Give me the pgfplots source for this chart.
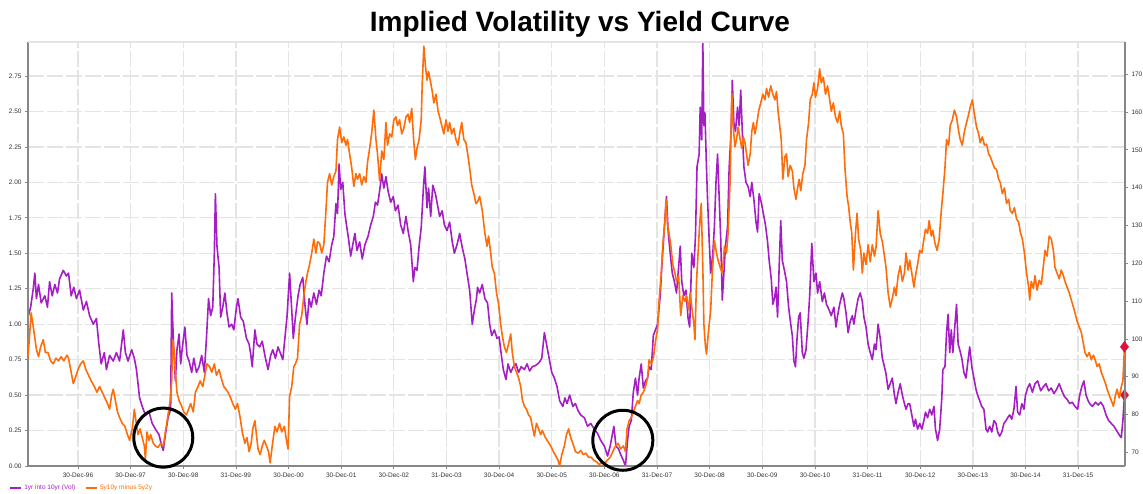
\documentclass[border=0pt]{standalone}
\usepackage{pgfplots}
\pgfplotsset{compat=1.18}
\usepackage{fontspec}
\setmainfont{Liberation Sans}
\definecolor{volc}{RGB}{165,30,195}
\definecolor{curvc}{RGB}{255,108,10}
\definecolor{gridc}{RGB}{228,228,228}
\definecolor{axisc}{RGB}{135,135,135}
\definecolor{mkc}{RGB}{220,20,60}
\begin{document}
\begin{tikzpicture}
\useasboundingbox (0,0) rectangle (1143pt,494pt);
\node[anchor=base, font=\fontsize{28}{30}\selectfont\bfseries] at (580pt,462pt) {Implied Volatility vs Yield Curve};
\begin{axis}[
  at={(28pt,28pt)}, anchor=south west,
  scale only axis, width=1097pt, height=424pt,
  xmin=1996.05, xmax=2016.89, ymin=0, ymax=2.99,
  clip=false,
  xtick={1997,1998,1999,2000,2001,2002,2003,2004,2005,2006,2007,2008,2009,2010,2011,2012,2013,2014,2015,2016},
  xticklabels={30-Dec-96,30-Dec-97,30-Dec-98,31-Dec-99,30-Dec-00,30-Dec-01,30-Dec-02,31-Dec-03,30-Dec-04,30-Dec-05,30-Dec-06,31-Dec-07,30-Dec-08,30-Dec-09,30-Dec-10,31-Dec-11,30-Dec-12,30-Dec-13,30-Dec-14,31-Dec-15},
  ytick={0,0.25,0.5,0.75,1,1.25,1.5,1.75,2,2.25,2.5,2.75},
  yticklabel style={/pgf/number format/.cd, fixed, fixed zerofill, precision=2},
  /pgf/number format/assume math mode=true,
  ticklabel style={font=\fontsize{6.5}{7}\selectfont, color=black!80},
  xtick pos=bottom, ytick pos=left, tick align=outside,
  major tick length=3pt, tick style={axisc, line width=0.8pt},
  axis line style={draw=none},
  grid=major, major grid style={gridc, line width=1.3pt, dash pattern=on 16pt off 3pt},
]
\addplot[volc, line width=1.6pt, line join=round] coordinates {
(1996.05,1.05)(1996.10,1.12)(1996.15,1.25)(1996.18,1.36)(1996.21,1.18)(1996.25,1.28)(1996.30,1.15)(1996.37,1.20)(1996.42,1.12)(1996.46,1.30)
(1996.51,1.20)(1996.56,1.28)(1996.61,1.22)(1996.65,1.32)(1996.72,1.38)(1996.78,1.34)(1996.82,1.36)(1996.87,1.20)(1996.92,1.26)(1996.97,1.18)
(1997.03,1.24)(1997.10,1.10)(1997.16,1.16)(1997.22,1.06)(1997.29,1.00)(1997.35,1.04)(1997.39,0.88)(1997.44,0.72)(1997.50,0.80)(1997.54,0.68)
(1997.60,0.78)(1997.67,0.74)(1997.73,0.80)(1997.79,0.74)(1997.86,0.96)(1997.90,0.80)(1997.95,0.74)(1998.02,0.82)(1998.07,0.76)(1998.11,0.68)
(1998.17,0.48)(1998.22,0.42)(1998.28,0.36)(1998.35,0.38)(1998.41,0.30)(1998.47,0.26)(1998.54,0.22)(1998.59,0.14)(1998.62,0.11)(1998.66,0.22)
(1998.71,0.34)(1998.76,0.40)(1998.78,1.22)(1998.81,0.90)(1998.85,0.60)(1998.88,0.82)(1998.92,0.93)(1998.95,0.72)(1998.99,0.86)(1999.03,0.98)
(1999.07,0.78)(1999.11,0.74)(1999.16,0.66)(1999.20,0.76)(1999.25,0.66)(1999.30,0.70)(1999.35,0.78)(1999.40,0.66)(1999.44,0.90)(1999.48,1.18)
(1999.52,1.06)(1999.56,1.12)(1999.59,1.50)(1999.61,1.92)(1999.64,1.55)(1999.68,1.40)(1999.71,1.05)(1999.75,1.12)(1999.79,1.22)(1999.83,1.08)
(1999.87,0.98)(1999.92,1.00)(1999.96,0.96)(2000.01,1.12)(2000.04,1.18)(2000.09,1.05)(2000.14,1.02)(2000.20,0.90)(2000.25,0.86)
(2000.28,0.79)(2000.31,0.70)(2000.36,0.96)(2000.40,0.86)(2000.45,0.84)(2000.50,0.88)(2000.55,0.78)(2000.61,0.68)(2000.66,0.78)(2000.70,0.82)
(2000.75,0.76)(2000.80,0.84)(2000.84,0.80)(2000.89,0.75)(2000.93,0.90)(2000.97,1.05)(2001.02,1.36)(2001.06,1.10)(2001.09,0.90)(2001.13,1.05)
(2001.18,1.20)(2001.22,1.28)(2001.27,1.33)(2001.31,1.14)(2001.35,1.00)(2001.39,1.18)(2001.43,1.12)(2001.48,1.22)(2001.53,1.14)(2001.58,1.24)
(2001.62,1.20)(2001.67,1.36)(2001.72,1.48)(2001.77,1.44)(2001.82,1.56)(2001.86,1.62)(2001.90,1.85)(2001.93,1.78)(2001.96,2.13)(2001.99,1.95)
(2002.03,2.00)(2002.07,1.78)(2002.10,1.70)(2002.14,1.60)(2002.18,1.48)(2002.23,1.58)(2002.26,1.64)(2002.30,1.52)(2002.35,1.58)(2002.40,1.46)
(2002.45,1.56)(2002.51,1.62)(2002.56,1.70)(2002.61,1.76)(2002.65,1.86)(2002.69,1.84)(2002.73,1.94)(2002.77,2.06)(2002.81,1.96)(2002.85,2.04)
(2002.89,1.94)(2002.94,1.86)(2002.99,1.90)(2003.03,1.80)(2003.08,1.84)(2003.13,1.70)(2003.18,1.64)(2003.23,1.76)(2003.27,1.66)(2003.32,1.56)
(2003.37,1.30)(2003.40,1.40)(2003.44,1.38)(2003.48,1.55)(2003.52,1.68)(2003.56,1.95)(2003.59,2.11)(2003.63,1.82)(2003.66,1.96)(2003.70,1.76)
(2003.74,1.98)(2003.79,1.92)(2003.83,1.84)(2003.87,1.76)(2003.92,1.80)(2003.96,1.70)(2004.01,1.66)(2004.06,1.72)(2004.11,1.58)(2004.15,1.50)
(2004.20,1.56)(2004.25,1.64)(2004.30,1.54)(2004.35,1.46)(2004.39,1.36)(2004.44,1.24)(2004.49,1.00)(2004.53,1.10)(2004.57,1.18)
(2004.59,1.26)(2004.63,1.22)(2004.68,1.28)(2004.73,1.18)(2004.78,1.15)(2004.82,1.00)(2004.86,0.92)(2004.91,0.96)(2004.96,0.90)(2005.00,0.91)
(2005.05,0.76)(2005.08,0.68)(2005.13,0.61)(2005.17,0.72)(2005.22,0.66)(2005.27,0.70)(2005.32,0.72)(2005.37,0.66)(2005.42,0.70)(2005.48,0.68)
(2005.53,0.72)(2005.58,0.67)(2005.63,0.70)(2005.70,0.71)(2005.76,0.73)(2005.81,0.76)(2005.86,0.94)(2005.90,0.86)(2005.95,0.76)(2006.00,0.66)
(2006.05,0.62)(2006.10,0.56)(2006.15,0.46)(2006.21,0.42)(2006.25,0.48)(2006.29,0.44)(2006.34,0.50)(2006.40,0.42)(2006.45,0.44)(2006.50,0.39)
(2006.55,0.36)(2006.62,0.34)(2006.68,0.28)(2006.74,0.30)(2006.81,0.26)(2006.87,0.23)(2006.93,0.18)(2007.00,0.14)(2007.06,0.07)(2007.11,0.14)
(2007.14,0.20)(2007.18,0.28)(2007.22,0.14)(2007.27,0.12)(2007.31,0.08)(2007.36,0.04)(2007.40,0.00)(2007.44,0.18)(2007.47,0.28)(2007.51,0.32)
(2007.55,0.52)(2007.59,0.62)(2007.63,0.50)(2007.66,0.62)(2007.70,0.72)(2007.74,0.55)(2007.78,0.60)(2007.82,0.62)(2007.85,0.70)(2007.89,0.68)
(2007.93,0.92)(2007.97,0.96)(2008.01,1.00)(2008.06,1.20)(2008.09,1.40)(2008.14,1.69)(2008.18,1.90)(2008.21,1.66)(2008.25,1.50)(2008.29,1.36)
(2008.33,1.30)(2008.37,1.22)(2008.41,1.40)(2008.44,1.55)(2008.47,1.30)(2008.51,1.20)(2008.55,1.24)(2008.59,1.04)(2008.62,0.98)
(2008.63,1.10)(2008.66,1.50)(2008.70,1.40)(2008.73,1.62)(2008.76,2.11)(2008.80,2.20)(2008.82,2.53)(2008.85,2.30)(2008.87,2.99)(2008.89,2.40)
(2008.91,2.49)(2008.94,2.10)(2008.96,1.88)(2008.99,1.60)(2009.02,1.36)(2009.06,1.50)(2009.09,1.69)(2009.12,2.00)(2009.15,2.20)(2009.18,1.90)
(2009.21,1.60)(2009.24,1.17)(2009.27,1.36)(2009.30,1.55)(2009.34,1.69)(2009.37,2.10)(2009.41,2.39)(2009.43,2.72)(2009.46,2.42)(2009.49,2.36)
(2009.53,2.53)(2009.56,2.40)(2009.59,2.65)(2009.62,2.36)(2009.65,2.11)(2009.69,2.00)(2009.73,1.97)(2009.77,1.90)(2009.80,2.00)(2009.84,1.88)
(2009.88,1.72)(2009.91,1.65)(2009.94,1.92)(2009.98,1.86)(2010.02,1.78)(2010.06,1.70)(2010.10,1.58)(2010.13,1.45)(2010.17,1.32)(2010.20,1.14)
(2010.23,1.18)(2010.26,1.26)(2010.29,1.05)(2010.32,1.40)(2010.35,1.73)(2010.38,1.45)(2010.42,1.38)(2010.46,1.30)(2010.50,1.12)(2010.54,1.00)
(2010.57,0.92)(2010.60,0.74)(2010.63,0.70)(2010.66,0.90)(2010.69,1.05)(2010.72,1.08)(2010.76,0.80)(2010.79,0.76)(2010.83,0.82)(2010.87,1.02)
(2010.90,1.20)(2010.94,1.57)(2010.98,1.30)(2011.02,1.36)(2011.05,1.22)(2011.09,1.30)(2011.14,1.16)(2011.18,1.22)(2011.22,1.14)(2011.27,1.10)
(2011.31,1.06)(2011.36,1.12)(2011.40,0.98)(2011.43,1.06)(2011.47,1.14)(2011.52,1.22)(2011.55,1.18)(2011.59,1.08)(2011.63,0.94)(2011.67,1.02)
(2011.71,1.06)(2011.74,1.00)(2011.78,1.10)(2011.82,1.18)(2011.86,1.22)(2011.90,1.16)(2011.93,1.05)(2011.97,0.98)(2012.01,0.86)(2012.05,0.80)
(2012.09,0.75)(2012.13,0.86)(2012.16,0.82)(2012.20,1.00)(2012.24,0.90)(2012.28,0.76)(2012.32,0.70)(2012.35,0.65)(2012.39,0.54)(2012.43,0.58)
(2012.47,0.62)(2012.51,0.50)(2012.54,0.44)(2012.58,0.52)(2012.62,0.58)(2012.66,0.50)(2012.70,0.44)(2012.73,0.40)(2012.77,0.44)
(2012.80,0.44)(2012.84,0.36)(2012.88,0.28)(2012.91,0.33)(2012.95,0.26)(2012.99,0.30)(2013.03,0.26)(2013.07,0.32)(2013.10,0.38)(2013.14,0.34)
(2013.18,0.40)(2013.22,0.36)(2013.26,0.42)(2013.29,0.26)(2013.33,0.18)(2013.37,0.26)(2013.41,0.48)(2013.43,0.68)(2013.47,0.70)(2013.50,0.94)
(2013.53,1.07)(2013.56,0.80)(2013.59,0.96)(2013.62,0.80)(2013.66,1.00)(2013.69,1.14)(2013.72,0.86)(2013.75,0.82)(2013.79,0.76)(2013.83,0.66)
(2013.87,0.62)(2013.90,0.72)(2013.94,0.84)(2013.98,0.70)(2014.02,0.62)(2014.06,0.54)(2014.09,0.50)(2014.13,0.46)(2014.17,0.42)(2014.21,0.40)
(2014.25,0.26)(2014.28,0.24)(2014.32,0.28)(2014.36,0.24)(2014.40,0.32)(2014.44,0.30)(2014.47,0.24)(2014.51,0.21)(2014.55,0.24)(2014.59,0.30)
(2014.63,0.32)(2014.66,0.34)(2014.70,0.36)(2014.74,0.33)(2014.78,0.40)(2014.82,0.56)(2014.85,0.38)(2014.89,0.36)(2014.93,0.44)(2014.97,0.40)
(2015.00,0.50)(2015.04,0.55)(2015.08,0.58)(2015.13,0.52)(2015.18,0.58)(2015.23,0.60)(2015.29,0.53)(2015.34,0.56)(2015.39,0.58)(2015.44,0.53)
(2015.49,0.55)(2015.54,0.51)(2015.59,0.54)(2015.64,0.58)(2015.69,0.53)(2015.74,0.49)(2015.79,0.47)(2015.84,0.44)(2015.89,0.45)(2015.94,0.42)
(2015.99,0.40)(2016.03,0.50)(2016.07,0.56)(2016.11,0.60)(2016.15,0.50)(2016.19,0.46)(2016.22,0.44)(2016.27,0.42)(2016.33,0.45)(2016.38,0.43)
(2016.43,0.45)(2016.48,0.42)(2016.53,0.36)(2016.58,0.32)(2016.63,0.30)(2016.68,0.28)(2016.73,0.25)(2016.78,0.22)(2016.82,0.20)(2016.85,0.32)
(2016.88,0.50)
};
\addplot[only marks, mark=diamond*, mark size=5.5pt, color=mkc] coordinates {(2016.88,0.50)};
\draw[axisc, line width=1.5pt] (rel axis cs:0,1) -- (rel axis cs:0,0) -- (rel axis cs:1,0);
\draw[gridc, line width=1.3pt] (rel axis cs:0,1) -- (rel axis cs:1,1);
\end{axis}
\begin{axis}[
  at={(28pt,28pt)}, anchor=south west,
  scale only axis, width=1097pt, height=424pt,
  xmin=1996.05, xmax=2016.89, ymin=66.4, ymax=178.5,
  clip=false,
  axis x line=none, axis y line*=right,
  y axis line style={-, draw=axisc, line width=1.5pt},
  ytick={70,80,90,100,110,120,130,140,150,160,170},
  /pgf/number format/assume math mode=true,
  ticklabel style={font=\fontsize{6.5}{7}\selectfont, color=black!80},
  tick align=outside, major tick length=3pt, tick style={axisc, line width=0.8pt},
  legend style={at={(-0.017,-0.04)}, anchor=north west, draw=none, fill=none,
    font=\fontsize{6.5}{7}\selectfont, inner sep=0pt, /tikz/every even column/.append style={column sep=8pt}},
  legend columns=2, legend cell align=left,
  legend image code/.code={\draw[#1, line width=1.8pt] (0pt,0pt) -- (11pt,0pt);},
]
\addlegendimage{volc, line width=1.8pt}
\addlegendentry{\textcolor{volc}{1yr into 10yr (Vol)}}
\addplot[curvc, line width=1.6pt, line join=round] coordinates {
(1996.05,95.3)(1996.08,100.9)(1996.11,106.9)(1996.15,103.2)(1996.18,100.2)(1996.21,97.2)(1996.25,95.3)(1996.29,97.9)(1996.34,99.8)(1996.38,96.4)
(1996.43,96.4)(1996.48,94.2)(1996.53,93.4)(1996.58,94.9)(1996.63,94.2)(1996.68,95.3)(1996.73,94.2)(1996.79,95.7)(1996.82,94.9)(1996.87,91.2)
(1996.91,88.2)(1996.95,89.7)(1997.00,91.9)(1997.05,93.4)(1997.10,94.2)(1997.15,91.9)(1997.20,90.4)(1997.25,88.9)(1997.31,87.4)(1997.36,85.9)
(1997.41,87.4)(1997.46,85.9)(1997.51,84.4)(1997.56,82.9)(1997.60,81.4)(1997.64,85.2)(1997.67,86.7)(1997.71,83.7)(1997.75,80.7)(1997.79,79.2)
(1997.84,77.7)(1997.89,76.9)(1997.94,74.7)(1997.98,73.2)(1998.03,76.2)(1998.07,81.4)(1998.10,78.4)(1998.14,74.7)(1998.18,76.2)(1998.22,73.9)
(1998.26,71.7)(1998.28,68.3)(1998.31,75.4)(1998.35,73.2)(1998.38,74.7)(1998.43,72.4)(1998.47,71.7)(1998.52,71.3)(1998.57,72.4)(1998.62,71.7)
(1998.66,75.4)(1998.71,79.9)(1998.75,83.7)(1998.78,88.9)(1998.80,99.8)(1998.83,96.4)(1998.85,91.2)(1998.88,85.9)(1998.92,83.7)(1998.97,82.2)
(1999.01,80.7)(1999.06,79.9)(1999.10,81.4)(1999.14,82.9)(1999.19,80.7)(1999.23,85.9)(1999.28,87.4)(1999.32,88.9)(1999.37,87.4)(1999.41,90.4)
(1999.45,93.4)(1999.50,92.7)(1999.54,91.2)(1999.59,93.4)(1999.63,90.4)(1999.68,91.9)(1999.72,89.7)(1999.77,87.4)(1999.81,86.7)(1999.85,85.9)
(1999.90,84.4)(1999.94,82.9)(1999.99,81.4)(2000.03,82.9)(2000.08,79.2)(2000.12,75.4)(2000.17,72.4)(2000.21,73.9)(2000.25,70.2)
(2000.29,72.4)(2000.32,76.2)(2000.36,78.4)(2000.39,74.7)(2000.42,70.9)(2000.46,69.4)(2000.50,71.7)(2000.54,73.2)(2000.58,71.7)(2000.62,70.2)
(2000.65,67.2)(2000.69,71.7)(2000.74,76.9)(2000.78,75.4)(2000.83,77.7)(2000.87,75.4)(2000.92,76.9)(2000.96,73.2)(2000.99,70.9)(2001.02,84.8)
(2001.06,87.4)(2001.10,92.7)(2001.13,93.4)(2001.17,94.9)(2001.21,103.9)(2001.25,106.2)(2001.29,111.4)(2001.33,115.2)(2001.36,117.4)(2001.40,119.7)
(2001.44,122.7)(2001.48,126.4)(2001.52,122.7)(2001.55,125.7)(2001.59,125.3)(2001.63,122.7)(2001.67,124.9)(2001.71,133.9)(2001.74,141.4)(2001.78,143.7)
(2001.82,140.7)(2001.86,142.9)(2001.90,144.4)(2001.93,152.7)(2001.97,156.0)(2002.01,151.9)(2002.05,153.4)(2002.09,151.2)(2002.12,152.7)(2002.16,148.9)
(2002.20,145.2)(2002.24,140.3)(2002.28,143.7)(2002.31,142.2)(2002.35,143.7)(2002.39,140.7)(2002.43,142.9)(2002.47,141.4)(2002.50,146.7)(2002.54,150.4)
(2002.58,154.5)(2002.62,160.5)(2002.66,152.7)(2002.69,148.9)(2002.73,141.8)(2002.77,149.7)(2002.81,147.4)(2002.85,157.2)(2002.88,151.2)(2002.92,154.2)
(2002.96,153.4)(2003.00,157.9)(2003.04,158.7)(2003.07,156.4)(2003.11,157.9)(2003.15,154.2)(2003.19,155.7)(2003.23,158.7)(2003.27,159.4)(2003.30,157.2)
(2003.34,160.9)(2003.38,151.9)(2003.41,147.4)(2003.44,150.4)(2003.48,152.7)(2003.52,157.9)(2003.54,167.7)(2003.57,177.4)(2003.60,172.2)(2003.63,168.4)
(2003.66,170.7)(2003.70,167.7)(2003.73,165.4)(2003.76,162.4)(2003.80,164.7)(2003.84,160.2)(2003.87,158.7)(2003.91,156.4)(2003.95,154.2)(2003.99,157.9)
(2004.03,154.9)(2004.06,157.2)(2004.10,154.2)(2004.14,155.7)(2004.18,152.7)(2004.22,151.2)(2004.25,154.2)(2004.29,157.2)(2004.33,152.7)(2004.37,151.9)
(2004.41,148.2)(2004.44,145.2)(2004.48,140.7)(2004.52,138.4)(2004.56,135.8)(2004.59,136.2)(2004.63,137.7)(2004.68,133.9)(2004.73,127.9)(2004.77,124.5)
(2004.80,127.2)(2004.84,122.7)(2004.87,118.9)(2004.91,117.4)(2004.95,112.2)(2004.99,109.2)(2005.03,103.9)(2005.06,100.9)(2005.10,97.9)(2005.14,96.4)
(2005.18,98.7)(2005.22,101.3)(2005.25,96.4)(2005.29,92.7)(2005.33,91.2)(2005.37,89.7)(2005.41,87.4)(2005.44,84.0)(2005.48,82.2)(2005.52,81.4)
(2005.56,79.9)(2005.60,79.2)(2005.63,76.9)(2005.67,74.3)(2005.71,77.7)(2005.75,76.2)(2005.79,74.7)(2005.82,75.8)(2005.88,73.9)(2005.93,72.8)
(2005.98,71.7)(2006.03,70.2)(2006.08,69.0)(2006.12,67.9)(2006.15,66.4)(2006.19,69.4)(2006.24,71.7)(2006.28,74.7)(2006.32,76.2)(2006.36,73.9)
(2006.40,72.4)(2006.45,70.2)(2006.50,69.8)(2006.55,70.5)(2006.60,69.4)(2006.65,69.8)(2006.70,68.7)(2006.75,68.7)(2006.80,67.9)(2006.85,67.5)
(2006.90,66.8)(2006.95,67.2)(2007.00,66.8)(2007.05,67.9)(2007.11,68.7)(2007.16,70.2)(2007.21,71.7)(2007.26,72.4)(2007.31,70.9)(2007.36,71.7)
(2007.40,70.2)(2007.43,76.2)(2007.47,78.4)(2007.51,79.2)(2007.55,80.7)(2007.59,82.2)(2007.63,83.7)(2007.66,82.9)(2007.70,85.2)(2007.74,85.9)
(2007.78,87.4)(2007.82,89.7)(2007.85,94.5)(2007.89,93.4)(2007.93,94.9)(2007.97,99.4)(2008.01,102.4)(2008.04,110.3)(2008.08,117.4)(2008.11,124.9)
(2008.15,130.9)(2008.17,136.9)(2008.20,130.2)(2008.22,128.7)(2008.26,124.9)(2008.30,119.7)(2008.34,117.4)(2008.37,115.2)(2008.41,116.7)(2008.45,106.2)
(2008.49,111.4)(2008.53,109.9)(2008.56,111.4)(2008.60,107.7)(2008.63,112.2)(2008.66,108.4)(2008.70,103.9)(2008.72,99.8)(2008.75,115.2)(2008.78,122.7)
(2008.81,130.5)(2008.84,135.8)(2008.87,118.9)(2008.89,103.9)(2008.92,97.9)(2008.94,96.0)(2008.98,102.4)(2009.02,107.7)(2009.05,117.4)(2009.09,126.0)
(2009.13,122.7)(2009.16,120.8)(2009.20,118.9)(2009.24,117.4)(2009.28,124.5)(2009.32,122.7)(2009.35,127.9)(2009.39,142.2)(2009.42,165.0)(2009.45,155.7)
(2009.48,150.8)(2009.51,152.7)(2009.54,156.0)(2009.58,152.7)(2009.61,150.4)(2009.64,153.4)(2009.67,151.9)(2009.70,148.9)(2009.73,145.9)(2009.77,148.9)
(2009.80,154.9)(2009.83,157.2)(2009.86,154.2)(2009.89,156.4)(2009.93,160.2)(2009.97,162.4)(2010.01,164.7)(2010.05,163.2)(2010.08,166.2)(2010.12,163.9)
(2010.16,166.9)(2010.20,164.7)(2010.24,163.2)(2010.27,165.4)(2010.30,160.2)(2010.33,156.4)(2010.36,152.7)(2010.39,142.2)(2010.43,148.2)(2010.46,148.9)
(2010.49,142.9)(2010.53,145.9)(2010.57,144.4)(2010.60,139.9)(2010.64,136.9)(2010.67,139.9)(2010.70,142.2)(2010.73,139.2)(2010.77,143.7)(2010.81,145.9)
(2010.84,152.7)(2010.88,157.2)(2010.91,163.2)(2010.95,164.7)(2010.98,167.7)(2011.01,163.9)(2011.05,166.2)(2011.09,171.4)(2011.12,167.7)(2011.16,169.2)
(2011.20,164.7)(2011.24,166.9)(2011.28,163.2)(2011.31,160.2)(2011.35,162.4)(2011.39,158.7)(2011.43,157.2)(2011.47,160.2)(2011.50,156.4)(2011.54,154.2)
(2011.57,145.2)(2011.61,137.7)(2011.64,135.0)(2011.67,130.9)(2011.70,127.9)(2011.73,118.2)(2011.77,127.9)(2011.80,133.2)(2011.83,126.4)(2011.87,123.4)
(2011.90,117.4)(2011.93,122.7)(2011.97,119.7)(2012.01,124.9)(2012.05,120.4)(2012.09,124.9)(2012.13,121.9)(2012.16,124.2)(2012.20,133.9)(2012.24,127.9)
(2012.28,125.7)(2012.32,121.9)(2012.35,118.9)(2012.39,112.2)(2012.43,108.4)(2012.47,110.7)(2012.51,113.7)(2012.54,111.4)(2012.58,116.7)(2012.62,119.3)
(2012.66,115.2)(2012.70,117.4)(2012.73,122.7)(2012.77,118.2)(2012.80,120.8)(2012.84,117.4)(2012.88,113.7)(2012.91,116.7)(2012.95,119.7)(2012.99,123.4)
(2013.03,122.7)(2013.07,126.4)(2013.10,129.0)(2013.14,127.9)(2013.17,131.3)(2013.21,127.2)(2013.24,128.7)(2013.28,125.3)(2013.32,123.4)(2013.36,126.4)
(2013.40,133.9)(2013.43,138.4)(2013.47,145.2)(2013.50,152.7)(2013.54,151.2)(2013.57,156.4)(2013.61,157.9)(2013.65,160.5)(2013.69,158.7)(2013.73,154.9)
(2013.76,152.7)(2013.80,151.2)(2013.84,154.9)(2013.88,157.2)(2013.92,159.4)(2013.95,161.3)(2013.99,163.2)(2014.03,159.4)(2014.07,156.0)(2014.11,154.2)
(2014.14,151.9)(2014.18,153.4)(2014.22,151.2)(2014.26,151.5)(2014.30,148.9)(2014.33,148.2)(2014.37,146.7)(2014.41,145.2)(2014.45,144.8)(2014.49,142.2)
(2014.52,141.4)(2014.56,138.4)(2014.60,139.9)(2014.64,135.8)(2014.68,136.9)(2014.71,133.9)(2014.75,133.2)(2014.79,134.7)(2014.83,131.7)(2014.87,130.9)
(2014.90,128.3)(2014.94,126.4)(2014.98,122.7)(2015.02,117.4)(2015.06,113.7)(2015.08,110.3)(2015.11,115.2)(2015.15,113.3)(2015.18,116.7)(2015.22,112.9)
(2015.26,115.5)(2015.30,114.4)(2015.34,119.3)(2015.37,123.4)(2015.41,121.9)(2015.45,127.2)(2015.49,126.4)(2015.53,123.4)(2015.56,118.9)(2015.60,117.4)
(2015.64,115.9)(2015.68,118.2)(2015.72,116.7)(2015.75,115.2)(2015.79,113.7)(2015.83,112.2)(2015.87,110.3)(2015.91,108.4)(2015.94,106.9)(2015.98,104.7)
(2016.02,103.2)(2016.06,101.7)(2016.10,98.7)(2016.13,96.4)(2016.17,95.3)(2016.21,96.4)(2016.25,94.5)(2016.29,95.7)(2016.33,94.2)(2016.36,92.7)
(2016.40,93.4)(2016.44,91.2)(2016.48,89.7)(2016.52,88.2)(2016.55,86.7)(2016.59,85.2)(2016.63,83.7)(2016.67,82.2)(2016.71,85.2)(2016.74,86.7)
(2016.78,84.4)(2016.82,87.4)(2016.85,88.9)(2016.88,97.9)
};
\addlegendentry{\textcolor{curvc}{5y10y minus 5y2y}}
\addplot[only marks, mark=diamond*, mark size=5.5pt, color=mkc, forget plot] coordinates {(2016.88,97.9)};
\draw[black, line width=3pt] (axis cs:1998.62,73.9) circle[radius=29.5pt];
\draw[black, line width=3pt] (axis cs:2007.35,73.2) circle[radius=30pt];
\end{axis}
\end{tikzpicture}
\end{document}
